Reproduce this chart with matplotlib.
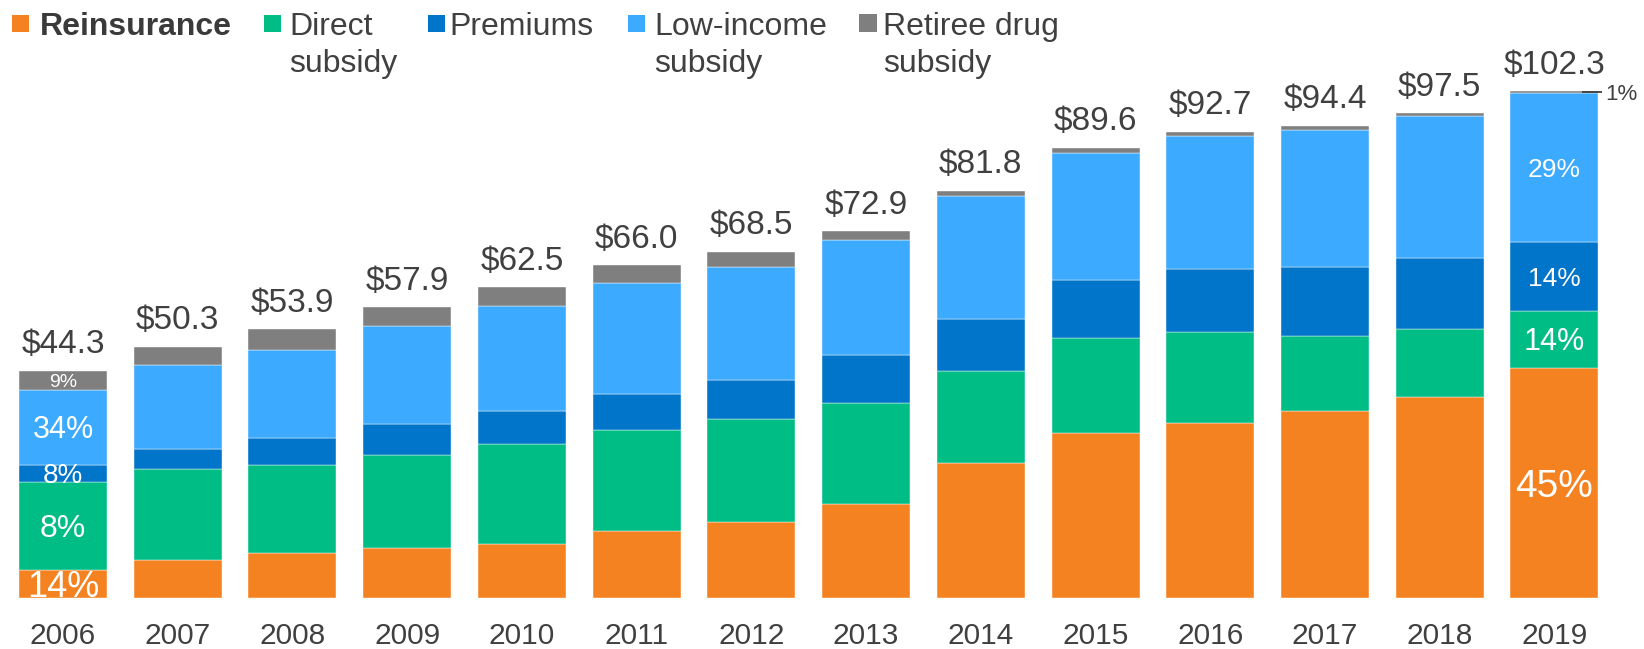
import matplotlib
matplotlib.use("Agg")
import matplotlib.pyplot as plt
import numpy as np
from matplotlib.patches import Rectangle

# ---------------- data ----------------
years = ["2006", "2007", "2008", "2009", "2010", "2011", "2012",
         "2013", "2014", "2015", "2016", "2017", "2018", "2019"]
series_names = ["Reinsurance", "Direct subsidy", "Premiums",
                "Low-income subsidy", "Retiree drug subsidy"]
reinsurance = [5.7, 7.7, 9.1, 10.0, 10.9, 13.5, 15.2, 18.9, 27.0, 33.0, 35.1, 37.4, 40.2, 46.1]
direct_subsidy = [17.5, 18.1, 17.6, 18.7, 19.9, 20.2, 20.7, 20.2, 18.5, 19.1, 18.2, 15.0, 13.6, 11.3]
premiums = [3.5, 4.1, 5.3, 6.1, 6.7, 7.2, 7.8, 9.5, 10.4, 11.6, 12.6, 13.9, 14.2, 13.8]
low_income = [15.0, 16.7, 17.7, 19.6, 21.0, 22.2, 22.5, 23.1, 24.5, 25.3, 26.6, 27.3, 28.5, 29.8]
retiree_drug = [3.8, 3.7, 4.1, 3.8, 3.7, 3.5, 3.1, 1.7, 1.1, 1.1, 0.8, 0.9, 0.5, 0.4]
total_labels = ["$44.3", "$50.3", "$53.9", "$57.9", "$62.5", "$66.0", "$68.5",
                "$72.9", "$81.8", "$89.6", "$92.7", "$94.4", "$97.5", "$102.3"]
# share labels shown inside first and last bars (per series, bottom to top)
first_bar_labels = ["14%", "8%", "8%", "34%", "9%"]
last_bar_labels = ["45%", "14%", "14%", "29%", "1%"]

# ---------------- style ----------------
colors = ["#F48221", "#00BD86", "#0075C9", "#3CAAFF", "#7F7F7F"]
text_dark = "#404040"
first_bar_fs = [26, 23, 20, 22, 14]
last_bar_fs = [28, 22, 19, 19, 16]

plt.rcParams["font.family"] = ["Liberation Sans", "DejaVu Sans"]

W, H = 1644, 649
fig = plt.figure(figsize=(W / 100, H / 100), dpi=100)
base_px = 598.3
px_per_unit = 5.0
ax = fig.add_axes([0, (H - base_px) / H, 1, base_px / H])
ax.set_ylim(0, base_px / px_per_unit)
spacing = 114.73
ax.set_xlim(-63 / spacing, 13 + (W - 1554.5) / spacing)
bar_w = 88 / spacing

x = np.arange(len(years))
data = [reinsurance, direct_subsidy, premiums, low_income, retiree_drug]
bottom = np.zeros(len(years))
bottoms = []
for vals, col, name in zip(data, colors, series_names):
    vals = np.array(vals)
    bottoms.append(bottom.copy())
    ax.bar(x, vals, bar_w, bottom=bottom, color=col, label=name,
           edgecolor="white", linewidth=0.3)
    bottom = bottom + vals
totals = bottom

# total labels
for xi, t, lab in zip(x, totals, total_labels):
    ax.annotate(lab, xy=(xi, t), xytext=(0, 12.5), textcoords="offset points",
                ha="center", va="baseline", fontsize=24, color=text_dark)

def center_label(xi, yc, txt, fs, col="white"):
    ax.annotate(txt, xy=(xi, yc), xytext=(0, -0.358 * fs),
                textcoords="offset points", ha="center", va="baseline",
                fontsize=fs, color=col)

# first bar share labels
for k in range(5):
    yc = bottoms[k][0] + data[k][0] / 2
    center_label(x[0], yc, first_bar_labels[k], first_bar_fs[k])

# last bar share labels
last = len(years) - 1
for k in range(4):
    yc = bottoms[k][last] + data[k][last] / 2
    center_label(x[last], yc, last_bar_labels[k], last_bar_fs[k])
# leader for the small top segment
yc = bottoms[4][last] + data[4][last] / 2
ax.plot([x[last] + 0.24, x[last] + 0.415], [yc, yc], color=text_dark, lw=1.3,
        solid_capstyle="butt")
ax.annotate(last_bar_labels[4], xy=(x[last] + 0.44, yc), xytext=(0, -0.358 * last_bar_fs[4]),
            textcoords="offset points", ha="left", va="baseline",
            fontsize=last_bar_fs[4], color=text_dark)

# axes styling
for s in ax.spines.values():
    s.set_visible(False)
ax.set_yticks([])
ax.set_xticks(x)
ax.set_xticklabels(years, fontsize=21.5, color=text_dark)
ax.tick_params(axis="x", length=0, pad=17)

# ---------------- legend (manual, two-line labels) ----------------
leg_items = [
    (12, 28.7, 40, ["Reinsurance"], "bold"),
    (264, 281, 289, ["Direct", "subsidy"], "normal"),
    (428, 445, 449, ["Premiums"], "normal"),
    (628, 645, 654, ["Low-income", "subsidy"], "normal"),
    (859, 877, 883, ["Retiree drug", "subsidy"], "normal"),
]
line_base = [35, 72]
for (sx0, sx1, tx, lines, wt), col in zip(leg_items, colors):
    side = sx1 - sx0
    fig.patches.append(Rectangle((sx0 / W, 1 - 32 / H), side / W, side / H,
                                 transform=fig.transFigure, color=col, lw=0))
    for li, line in enumerate(lines):
        fig.text(tx / W, 1 - line_base[li] / H, line, ha="left", va="baseline",
                 fontsize=23, color="#3a3a3a" if wt == "bold" else text_dark,
                 fontweight=wt)

fig.savefig("out.png", dpi=100)
